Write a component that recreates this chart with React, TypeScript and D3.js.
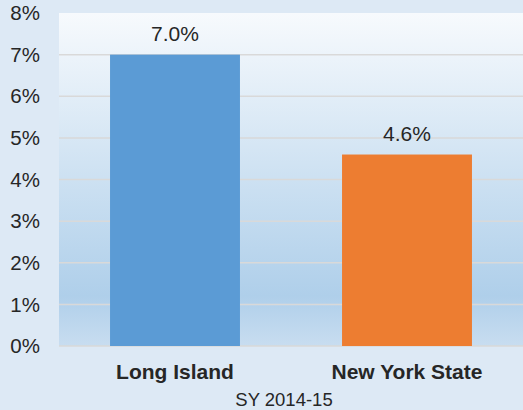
import React from "react";
import * as d3 from "d3";

const categories = ["Long Island", "New York State"];
const values = [7.0, 4.6];
const barColors = ["#5b9bd5", "#ed7d31"];
const yTicks = [0, 1, 2, 3, 4, 5, 6, 7, 8];
const xTitle = "SY 2014-15";

const W = 523;
const H = 410;
const M = { left: 59, right: 0, top: 13, bottom: 64 };

export default function App() {
  const x = d3
    .scaleBand<string>()
    .domain(categories)
    .range([M.left, W - M.right])
    .paddingInner(0.44)
    .paddingOuter(0.22);
  const y = d3.scaleLinear().domain([0, 8]).range([H - M.bottom, M.top]);
  const font = "Arial, 'Liberation Sans', Helvetica, sans-serif";
  const textColor = "#262626";
  return (
    <svg
      width={W}
      height={H}
      style={{ position: "absolute", left: 0, top: 0, display: "block" }}
    >
      <defs>
        <linearGradient id="plotGrad" x1="0" y1="0" x2="0" y2="1">
          <stop offset="0" stopColor="#f7fafd" />
          <stop offset="0.85" stopColor="#afcfea" />
          <stop offset="1" stopColor="#c8ddf0" />
        </linearGradient>
      </defs>
      <rect x={0} y={0} width={W} height={H} fill="#dde9f5" />
      <rect
        x={M.left}
        y={M.top}
        width={W - M.left - M.right}
        height={H - M.top - M.bottom}
        fill="url(#plotGrad)"
      />
      {yTicks.map((t) => (
        <g key={t}>
          {t > 0 && t < 8 && (
            <line
              x1={M.left}
              x2={W - M.right}
              y1={y(t)}
              y2={y(t)}
              stroke="#d9d9d9"
              strokeWidth={1.5}
            />
          )}
          <text
            x={40}
            y={y(t)}
            dy="0.35em"
            textAnchor="end"
            fontFamily={font}
            fontSize={20.5}
            fill={textColor}
          >
            {t}%
          </text>
        </g>
      ))}
      <line
        x1={M.left}
        x2={W - M.right}
        y1={y(0)}
        y2={y(0)}
        stroke="#d9d9d9"
        strokeWidth={1.5}
      />
      {categories.map((c, i) => (
        <g key={c}>
          <rect
            x={x(c)}
            y={y(values[i])}
            width={x.bandwidth()}
            height={y(0) - y(values[i])}
            fill={barColors[i]}
          />
          <text
            x={(x(c) as number) + x.bandwidth() / 2}
            y={y(values[i]) - 14}
            textAnchor="middle"
            fontFamily={font}
            fontSize={21}
            fill={textColor}
          >
            {values[i].toFixed(1)}%
          </text>
          <text
            x={(x(c) as number) + x.bandwidth() / 2}
            y={379}
            textAnchor="middle"
            fontFamily={font}
            fontSize={21}
            fontWeight="bold"
            fill={textColor}
          >
            {c}
          </text>
        </g>
      ))}
      <text
        x={284}
        y={406}
        textAnchor="middle"
        fontFamily={font}
        fontSize={18.5}
        fill={textColor}
      >
        {xTitle}
      </text>
    </svg>
  );
}
